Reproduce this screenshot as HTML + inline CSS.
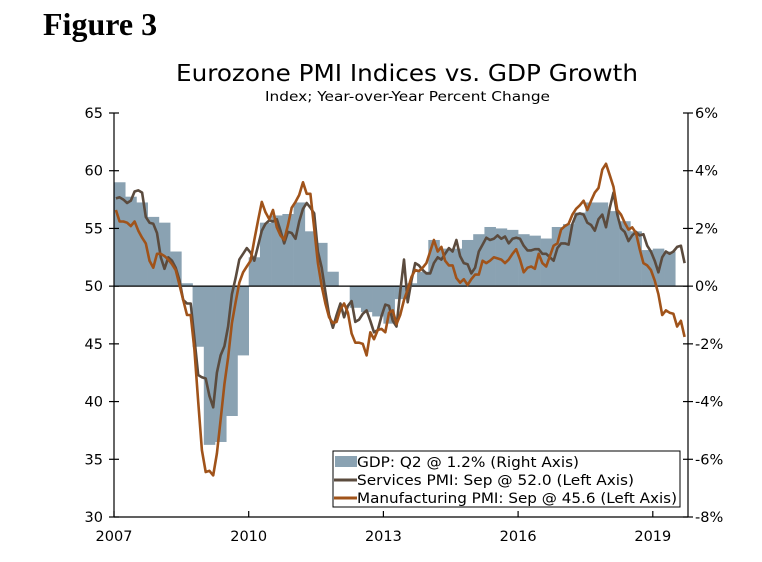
<!DOCTYPE html>
<html><head><meta charset="utf-8">
<style>
html,body{margin:0;padding:0;background:#fff;}
body{width:762px;height:562px;overflow:hidden;position:relative;font-family:"DejaVu Sans","Liberation Sans",sans-serif;}
#fig{position:absolute;left:43px;top:6px;font-family:"Liberation Serif",serif;font-weight:bold;font-size:32px;color:#000;}
svg{position:absolute;left:0;top:0;}
</style></head>
<body>
<div id="fig">Figure 3</div>
<svg id="chart" width="762" height="562">
<text x="176" y="81" font-size="23" textLength="462" lengthAdjust="spacingAndGlyphs" font-family="DejaVu Sans, sans-serif">Eurozone PMI Indices vs. GDP Growth</text>
<text x="265" y="101" font-size="13.5" textLength="285" lengthAdjust="spacingAndGlyphs" font-family="DejaVu Sans, sans-serif">Index; Year-over-Year Percent Change</text>
</svg>
<script>
const gdpValues=[3.6,3.1,2.9,2.4, 2.2,1.2,0.1,-2.1, -5.5,-5.4,-4.5,-2.4, 1.0,2.2,2.45,2.5, 2.9,1.9,1.5,0.5, 0.0,-0.75,-0.9,-1.05, -1.3,-0.45,0.1,0.5, 1.6,1.3,1.3,1.6, 1.8,2.05,2.0,1.95, 1.8,1.75,1.65,2.05, 2.15,2.55,2.9,2.9, 2.6,2.25,1.9,1.25, 1.3,1.2];
const servicesValues=[
57.6,57.7,57.5,57.2,57.4,58.2,58.3,58.1,56.0,55.5,55.4,54.6,
52.5,51.5,52.5,52.2,51.6,50.5,48.8,48.5,48.5,45.5,42.3,42.1,
42.0,40.5,39.5,42.5,44.0,44.8,46.5,49.3,50.7,52.3,52.8,53.3,
52.9,52.2,53.5,54.8,55.4,55.7,55.6,55.8,54.8,53.7,54.7,54.6,
54.1,55.6,56.7,57.2,56.8,56.3,53.0,51.6,49.5,47.5,46.4,47.5,
48.5,47.3,48.3,48.7,46.9,47.1,47.6,47.9,47.0,46.0,46.2,47.4,
48.4,48.3,47.0,46.5,49.5,52.3,48.6,50.5,52.0,51.8,51.4,51.1,
51.1,52.0,52.5,52.3,52.8,53.3,53.0,54.0,52.6,52.0,51.9,51.1,
51.6,53.0,53.6,54.2,54.0,54.1,54.4,54.1,54.3,53.7,54.1,54.2,
54.1,53.5,53.1,53.1,53.2,53.2,52.8,52.8,52.5,52.2,53.3,53.7,
53.7,53.6,55.4,56.2,56.3,56.2,55.5,55.3,54.8,55.8,56.2,55.1,
56.8,58.1,56.2,55.0,54.7,53.9,54.4,54.7,54.4,54.5,53.5,53.0,
52.2,51.2,52.5,53.0,52.8,53.0,53.4,53.5,52.0];
const manufacturingValues=[
56.6,55.6,55.6,55.5,55.2,55.6,54.8,54.2,53.7,52.2,51.6,52.8,
52.8,52.6,52.3,51.9,51.4,50.1,48.8,47.5,47.5,44.5,40.0,35.8,
33.9,34.0,33.6,35.5,38.4,41.5,43.8,46.8,48.6,50.3,51.2,51.7,
52.2,54.0,55.7,57.3,56.4,55.8,56.6,55.1,54.4,54.0,55.3,56.8,
57.3,57.9,59.0,58.0,58.0,55.0,52.0,50.0,48.5,47.3,46.8,46.9,
48.0,48.5,47.7,45.9,45.1,45.1,45.0,44.0,46.0,45.4,46.2,46.3,
46.0,47.7,47.9,46.7,47.5,48.8,49.7,50.8,51.4,51.3,51.6,52.0,
53.0,54.0,53.0,53.4,52.2,51.8,51.8,50.7,50.3,50.6,50.1,50.6,
51.0,51.0,52.2,52.0,52.2,52.5,52.4,52.3,52.0,52.3,52.8,53.2,
52.3,51.2,51.6,51.7,51.5,52.8,52.0,51.7,52.6,53.5,53.7,54.9,
55.2,55.4,56.2,56.7,57.0,57.4,56.6,57.4,58.1,58.5,60.1,60.6,
59.6,58.6,56.6,56.2,55.5,54.9,55.1,54.6,53.2,52.0,51.8,51.4,
50.5,49.3,47.5,47.9,47.7,47.6,46.5,47.0,45.6];
const leftTicks=[30,35,40,45,50,55,60,65];
const rightTicks=["-8%","-6%","-4%","-2%","0%","2%","4%","6%"];
const rightTickVals=[-8,-6,-4,-2,0,2,4,6];
const xTickYears=[2007,2010,2013,2016,2019];

const L=114,R=688,T=113,B=517;
const NS="http://www.w3.org/2000/svg";
const svg=document.getElementById('chart');
function x(d){return L+(d-2007)*44.9;}
function yL(v){return B-(v-30)*(B-T)/35;}
function yR(v){return B-(v+8)*(B-T)/14;}
function mk(tag,attrs,parent){const e=document.createElementNS(NS,tag);for(const k in attrs)e.setAttribute(k,attrs[k]);(parent||svg).appendChild(e);return e;}

const gb=mk('g',{});


gdpValues.forEach((v,i)=>{
  const x0=x(2007+i/4),x1=x(2007+(i+1)/4);
  const y0=yR(0),y1=yR(v);
  const r=mk('rect',{x:x0,y:Math.min(y0,y1),width:x1-x0+0.3,height:Math.abs(y1-y0),fill:'#8aa2b2'},gb);
  
  
});
const zl=mk('line',{x1:L,x2:R,y1:yR(0),y2:yR(0),stroke:'#000','stroke-width':1.3});



function series(vals,color,name){
  const pts=vals.map((v,i)=>x(2007+(i+0.5)/12).toFixed(1)+','+yL(v).toFixed(1)).join(' ');
  const p=mk('polyline',{points:pts,fill:'none',stroke:color,'stroke-width':2.6,'stroke-linejoin':'round'});
  
  
}
series(servicesValues,'#5b4b3e','services-pmi-line');
series(manufacturingValues,'#a0531a','manufacturing-pmi-line');

const ax=mk('g',{stroke:'#000','stroke-width':1.2});


mk('line',{x1:L,x2:L,y1:T,y2:B},ax);
mk('line',{x1:R,x2:R,y1:T,y2:B},ax);
mk('line',{x1:L,x2:R,y1:B,y2:B},ax);
leftTicks.forEach(v=>{
  mk('line',{x1:L-5,x2:L+5,y1:yL(v),y2:yL(v)},ax);
  const t=mk('text',{x:L-11,y:yL(v)+5,'text-anchor':'end','font-size':14.5,fill:'#000',stroke:'none'});
  t.textContent=v;
  
  
});
rightTickVals.forEach((v,i)=>{
  mk('line',{x1:R-5,x2:R+5,y1:yR(v),y2:yR(v)},ax);
  const t=mk('text',{x:R+7,y:yR(v)+5,'text-anchor':'start','font-size':14.5,fill:'#000',stroke:'none'});
  t.textContent=rightTicks[i];
  
  
});
xTickYears.forEach(yr=>{
  mk('line',{x1:x(yr),x2:x(yr),y1:B-6,y2:B},ax);
  const t=mk('text',{x:x(yr),y:B+24,'text-anchor':'middle','font-size':14.5,fill:'#000',stroke:'none'});
  t.textContent=yr;
  
  
});

const lg=mk('g',{});


mk('rect',{x:333,y:451,width:347,height:56,fill:'#fff',stroke:'#000','stroke-width':1},lg);
const items=[['GDP: Q2 @ 1.2% (Right Axis)','bar','#8aa2b2',222],['Services PMI: Sep @ 52.0 (Left Axis)','line','#5b4b3e',277],['Manufacturing PMI: Sep @ 45.6 (Left Axis)','line','#a0531a',320]];
items.forEach((it,i)=>{
  const cy=461+i*18;
  if(it[1]==='bar') mk('rect',{x:335,y:cy-5,width:22,height:11,fill:it[2]},lg);
  else mk('line',{x1:334,x2:357,y1:cy+1,y2:cy+1,stroke:it[2],'stroke-width':3},lg);
  const t=mk('text',{x:357,y:cy+6,'font-size':14.5,fill:'#000',textLength:it[3],lengthAdjust:'spacingAndGlyphs'},lg);
  t.textContent=it[0];
  
  
});
</script>
</body></html>
